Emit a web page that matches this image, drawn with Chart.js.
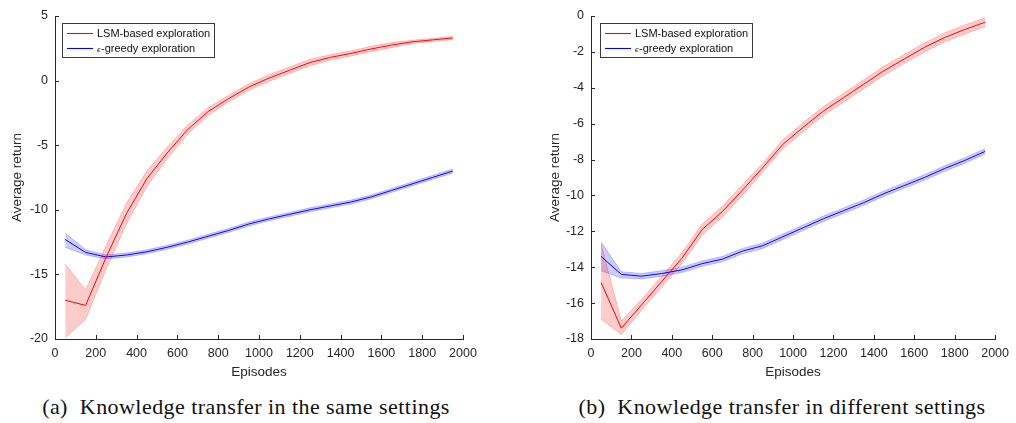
<!DOCTYPE html>
<html>
<head>
<meta charset="utf-8">
<script src="https://cdn.jsdelivr.net/npm/chart.js@4.4.1/dist/chart.umd.min.js"></script>
<style>
  html, body { margin: 0; padding: 0; background: #fff; }
  body { width: 1016px; height: 423px; position: relative; overflow: hidden; }
  .cell { position: absolute; top: 0; width: 508px; height: 385px; }
  .cap {
    position: absolute; top: 394px; width: 508px; text-align: center;
    font-family: "Liberation Serif", "DejaVu Serif", serif; font-size: 22px; letter-spacing: 0.45px;
    color: #111; white-space: pre; line-height: 26px;
  }
</style>
</head>
<body>
<div class="cell" style="left:0"><canvas id="cA" width="508" height="385"></canvas></div>
<div class="cell" style="left:508px"><canvas id="cB" width="508" height="385"></canvas></div>
<div class="cap" style="left:-8px">(a)  Knowledge transfer in the same settings</div>
<div class="cap" style="left:528px">(b)  Knowledge transfer in different settings</div>
<script>
// episode bins (centres of 100-episode windows)
const episodes = [50, 150, 250, 350, 450, 550, 650, 750, 850, 950,
                  1050, 1150, 1250, 1350, 1450, 1550, 1650, 1750, 1850, 1950];

// (a) same settings
const lsmSame   = [-17.0, -17.4, -13.7, -10.3, -7.6, -5.6, -3.8, -2.4, -1.4, -0.5,
                   0.2, 0.8, 1.4, 1.8, 2.1, 2.45, 2.75, 3.0, 3.15, 3.3];
const lsmSameHi = [-14.2, -16.2, -12.8, -9.5, -7.0, -5.15, -3.45, -2.1, -1.15, -0.25,
                   0.45, 1.05, 1.65, 2.0, 2.3, 2.65, 2.95, 3.12, 3.27, 3.42];
const lsmSameLo = [-19.9, -18.5, -14.6, -11.1, -8.2, -6.05, -4.15, -2.7, -1.65, -0.75,
                   -0.05, 0.55, 1.15, 1.6, 1.9, 2.25, 2.55, 2.88, 3.03, 3.18];
const epsSame   = [-12.3, -13.3, -13.65, -13.5, -13.25, -12.9, -12.5, -12.05, -11.6, -11.1,
                   -10.7, -10.35, -10.0, -9.7, -9.4, -9.0, -8.5, -8.0, -7.5, -7.0];
const epsSameHi = [-11.8, -13.1, -13.5, -13.35, -13.1, -12.75, -12.35, -11.9, -11.45, -10.95,
                   -10.55, -10.2, -9.85, -9.55, -9.25, -8.85, -8.35, -7.85, -7.35, -6.85];
const epsSameLo = [-12.9, -13.5, -13.8, -13.65, -13.4, -13.05, -12.65, -12.2, -11.75, -11.25,
                   -10.85, -10.5, -10.15, -9.85, -9.55, -9.15, -8.65, -8.15, -7.65, -7.15];

// (b) different settings
const lsmDiff   = [-14.85, -17.4, -16.1, -14.8, -13.5, -11.9, -10.9, -9.7, -8.45, -7.15,
                   -6.2, -5.3, -4.55, -3.8, -3.05, -2.4, -1.75, -1.2, -0.75, -0.35];
const lsmDiffHi = [-12.7, -17.0, -15.8, -14.5, -13.2, -11.6, -10.6, -9.4, -8.2, -6.9,
                   -5.95, -5.05, -4.3, -3.55, -2.8, -2.15, -1.5, -0.95, -0.5, -0.1];
const lsmDiffLo = [-16.9, -17.75, -16.4, -15.1, -13.8, -12.2, -11.2, -10.0, -8.7, -7.4,
                   -6.45, -5.55, -4.8, -4.05, -3.3, -2.65, -2.0, -1.45, -1.0, -0.6];
const epsDiff   = [-13.4, -14.4, -14.5, -14.35, -14.15, -13.8, -13.55, -13.1, -12.8, -12.3,
                   -11.8, -11.3, -10.85, -10.4, -9.9, -9.45, -9.0, -8.5, -8.05, -7.55];
const epsDiffHi = [-12.6, -14.25, -14.35, -14.2, -14.0, -13.65, -13.4, -12.95, -12.65, -12.15,
                   -11.65, -11.15, -10.7, -10.25, -9.75, -9.3, -8.85, -8.35, -7.9, -7.4];
const epsDiffLo = [-14.2, -14.6, -14.65, -14.5, -14.3, -13.95, -13.7, -13.25, -12.95, -12.45,
                   -11.95, -11.45, -11.0, -10.55, -10.05, -9.6, -9.15, -8.65, -8.2, -7.7];

const legendLabels = ["LSM-based exploration", "-greedy exploration"];
const AXIS = "#262626";
const SANS = '"Liberation Sans", Arial, Helvetica, sans-serif';

const pts = (ys) => ys.map((y, i) => ({ x: episodes[i], y }));

// MATLAB-style inward tick marks + boxed legend inside the axes
const matlabDecor = {
  id: "matlabDecor",
  afterDraw(chart, args, o) {
    const { ctx, chartArea: ca, scales } = chart;
    ctx.save();
    ctx.strokeStyle = AXIS;
    ctx.lineWidth = 1;
    ctx.beginPath();
    for (const t of scales.x.ticks) {
      const px = Math.round(scales.x.getPixelForValue(t.value)) + 0.5;
      ctx.moveTo(px, ca.bottom); ctx.lineTo(px, ca.bottom - 4);
    }
    for (const t of scales.y.ticks) {
      const py = Math.round(scales.y.getPixelForValue(t.value)) + 0.5;
      ctx.moveTo(ca.left, py); ctx.lineTo(ca.left + 4, py);
    }
    ctx.stroke();

    // legend box
    const bx = ca.left + o.dx, by = ca.top + 7, bw = 152, bh = 34;
    ctx.fillStyle = "#fff";
    ctx.fillRect(bx, by, bw, bh);
    ctx.strokeStyle = "#3a3a3a";
    ctx.strokeRect(bx + 0.5, by + 0.5, bw, bh);
    const rows = [["#ff0000", legendLabels[0], false], ["#0000ff", legendLabels[1], true]];
    rows.forEach(([col, txt, eps], i) => {
      const y = by + 10.5 + i * 15;
      ctx.strokeStyle = col;
      ctx.lineWidth = 1.1;
      ctx.beginPath(); ctx.moveTo(bx + 5, y); ctx.lineTo(bx + 31, y); ctx.stroke();
      ctx.fillStyle = "#111";
      ctx.textBaseline = "middle";
      let tx = bx + 35;
      if (eps) {
        ctx.font = "italic 8px " + SANS;
        ctx.fillText("\u03f5", tx, y + 1);
        tx += ctx.measureText("\u03f5").width + 0.5;
      }
      ctx.font = "11px " + SANS;
      ctx.fillText(txt, tx, y);
    });
    ctx.restore();
  },
};

function makeChart(id, red, redHi, redLo, blue, blueHi, blueLo, yMin, yMax, yStep, pad, yWidth, titlePad, legendDx) {
  const band = (data, col, fill) => ({
    data: pts(data), borderColor: col, borderWidth: 0.8, backgroundColor: fill,
    fill: fill ? "+1" : false, pointRadius: 0, tension: 0,
  });
  return new Chart(document.getElementById(id), {
    type: "line",
    data: {
      datasets: [
        { data: pts(red), borderColor: "#ff0000", borderWidth: 1, pointRadius: 0, tension: 0, fill: false },
        { data: pts(blue), borderColor: "#0000ff", borderWidth: 1, pointRadius: 0, tension: 0, fill: false },
        band(redHi, "rgba(255,0,0,0.28)", "rgba(255,0,0,0.2)"),
        band(redLo, "rgba(255,0,0,0.28)", null),
        band(blueHi, "rgba(0,0,255,0.28)", "rgba(0,0,255,0.2)"),
        band(blueLo, "rgba(0,0,255,0.28)", null),
      ],
    },
    options: {
      responsive: false,
      animation: false,
      layout: { padding: pad },
      plugins: { legend: { display: false }, tooltip: { enabled: false }, matlabDecor: { dx: legendDx } },
      scales: {
        x: {
          type: "linear", min: 0, max: 2000,
          ticks: { stepSize: 200, color: AXIS, font: { family: SANS, size: 12.5 }, padding: 7, maxRotation: 0,
                   format: { useGrouping: false } },
          grid: { display: false, drawTicks: false },
          border: { display: true, color: AXIS, width: 1 },
          title: { display: true, text: "Episodes", color: AXIS, font: { family: SANS, size: 13.5 }, padding: { top: 0, bottom: 5 } },
          afterFit: (s) => { s.height = 46; },
        },
        y: {
          min: yMin, max: yMax,
          ticks: { stepSize: yStep, color: AXIS, font: { family: SANS, size: 12.5 }, padding: 7 },
          grid: { display: false, drawTicks: false },
          border: { display: true, color: AXIS, width: 1 },
          title: { display: true, text: "Average return", color: AXIS, font: { family: SANS, size: 13.5 }, padding: { top: titlePad, bottom: 0 } },
          afterFit: (s) => { s.width = yWidth; },
        },
      },
    },
    plugins: [matlabDecor],
  });
}

makeChart("cA", lsmSame, lsmSameHi, lsmSameLo, epsSame, epsSameHi, epsSameLo,
  -20, 5, 5, { left: 0, right: 45, top: 16, bottom: 0 }, 55, 9.4, 7);
makeChart("cB", lsmDiff, lsmDiffHi, lsmDiffLo, epsDiff, epsDiffHi, epsDiffLo,
  -18, 0, 2, { left: 30, right: 15, top: 16, bottom: 0 }, 53, 9, 9);
</script>
</body>
</html>
